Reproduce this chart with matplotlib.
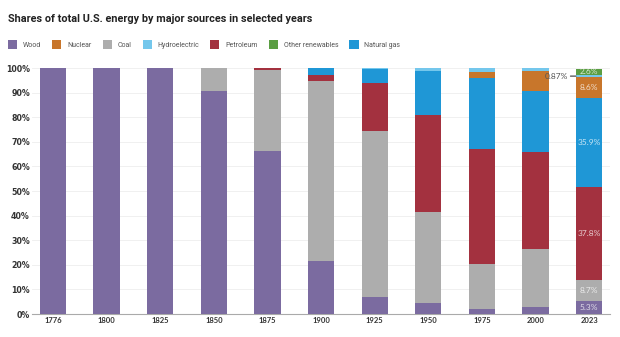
import matplotlib
matplotlib.use("Agg")
import matplotlib.pyplot as plt
import numpy as np
from matplotlib.patches import Patch

years = ["1776", "1800", "1825", "1850", "1875", "1900", "1925", "1950", "1975", "2000", "2023"]
wood = [100, 100, 100, 90.8, 66.4, 21.4, 7.0, 4.6, 2.0, 3.0, 5.3]
coal = [0, 0, 0, 9.2, 32.9, 73.2, 67.3, 36.7, 18.2, 23.4, 8.7]
petroleum = [0, 0, 0, 0, 0.7, 2.4, 19.7, 39.7, 46.9, 39.6, 37.8]
natural_gas = [0, 0, 0, 0, 0, 3.0, 5.7, 17.9, 28.8, 24.8, 35.9]
nuclear = [0, 0, 0, 0, 0, 0, 0, 0, 2.6, 8.1, 8.6]
hydro = [0, 0, 0, 0, 0, 0, 0.3, 1.1, 1.5, 1.1, 0.87]
other_renew = [0, 0, 0, 0, 0, 0, 0, 0, 0, 0, 2.6]

yticks = [0, 10, 20, 30, 40, 50, 60, 70, 80, 90, 100]

series = [
    ("Wood", wood, "#7b6ba0"),
    ("Coal", coal, "#adadad"),
    ("Petroleum", petroleum, "#a3313f"),
    ("Natural gas", natural_gas, "#1f97d6"),
    ("Nuclear", nuclear, "#c8762b"),
    ("Hydroelectric", hydro, "#74c7ec"),
    ("Other renewables", other_renew, "#5b9e43"),
]
colors = {n: c for n, _, c in series}
legend_order = ["Wood", "Nuclear", "Coal", "Hydroelectric", "Petroleum", "Other renewables", "Natural gas"]

narrow = ['Roboto', 'DejaVu Sans']
plt.rcParams['font.family'] = ['Lato', 'DejaVu Sans']

fig = plt.figure(figsize=(6.2, 3.37), dpi=100)
ax = fig.add_axes([32 / 620, 0.068, 578 / 620, 0.730])

x = np.arange(len(years))
bottom = np.zeros(len(years))
for name, vals, col in series:
    v = np.array(vals, dtype=float)
    ax.bar(x, v, bottom=bottom, width=0.49, color=col, edgecolor="none", zorder=3)
    bottom += v

# labels on the last bar
last = len(years) - 1
b = 0.0
for name, vals, col in series:
    v = vals[last]
    if name == "Hydroelectric":
        ax.annotate(f"{v:g}%", xy=(last - 0.245, b + v / 2), xytext=(last - 0.40, b + v / 2),
                    ha="right", va="center", fontsize=6, color="#555555",
                    arrowprops=dict(arrowstyle="-", color="#333333", lw=0.8, shrinkA=0, shrinkB=0))
    else:
        ax.text(last, b + v / 2, f"{v:g}%", ha="center", va="center", fontsize=6,
                color="white", alpha=0.75, zorder=5)
    b += v

ax.set_xlim(-0.392, 10.39)
ax.set_ylim(0, 100)
ax.set_yticks(yticks)
ax.set_yticklabels([f"{t}%" for t in yticks], fontsize=5.7, fontweight="bold", color="#333333",
                   family=['DejaVu Sans'])
ax.set_xticks(x)
ax.set_xticklabels(years, fontsize=5.5, fontweight="bold", color="#333333")
ax.tick_params(axis="both", length=0, pad=2)
ax.tick_params(axis="y", pad=1.5)
ax.grid(axis="y", color="#eeeeee", lw=0.6, zorder=0)
for s in ["top", "right", "left"]:
    ax.spines[s].set_visible(False)
ax.spines["bottom"].set_color("#aaaaaa")
ax.spines["bottom"].set_linewidth(0.8)

fig.text(0.013, 0.945, "Shares of total U.S. energy by major sources in selected years",
         fontsize=7.8, fontweight="bold", color="#222222", va="center", family=narrow)

handles = [Patch(facecolor=colors[n], edgecolor="none") for n in legend_order]
fig.legend(handles, legend_order, loc="center left", bbox_to_anchor=(0.003, 0.868), ncol=7,
           frameon=False, prop={'family': narrow, 'size': 5.0}, handlelength=1.3, handleheight=1.8,
           handletextpad=0.85, columnspacing=1.6, labelcolor="#555555")

fig.savefig("out.png", dpi=100)
